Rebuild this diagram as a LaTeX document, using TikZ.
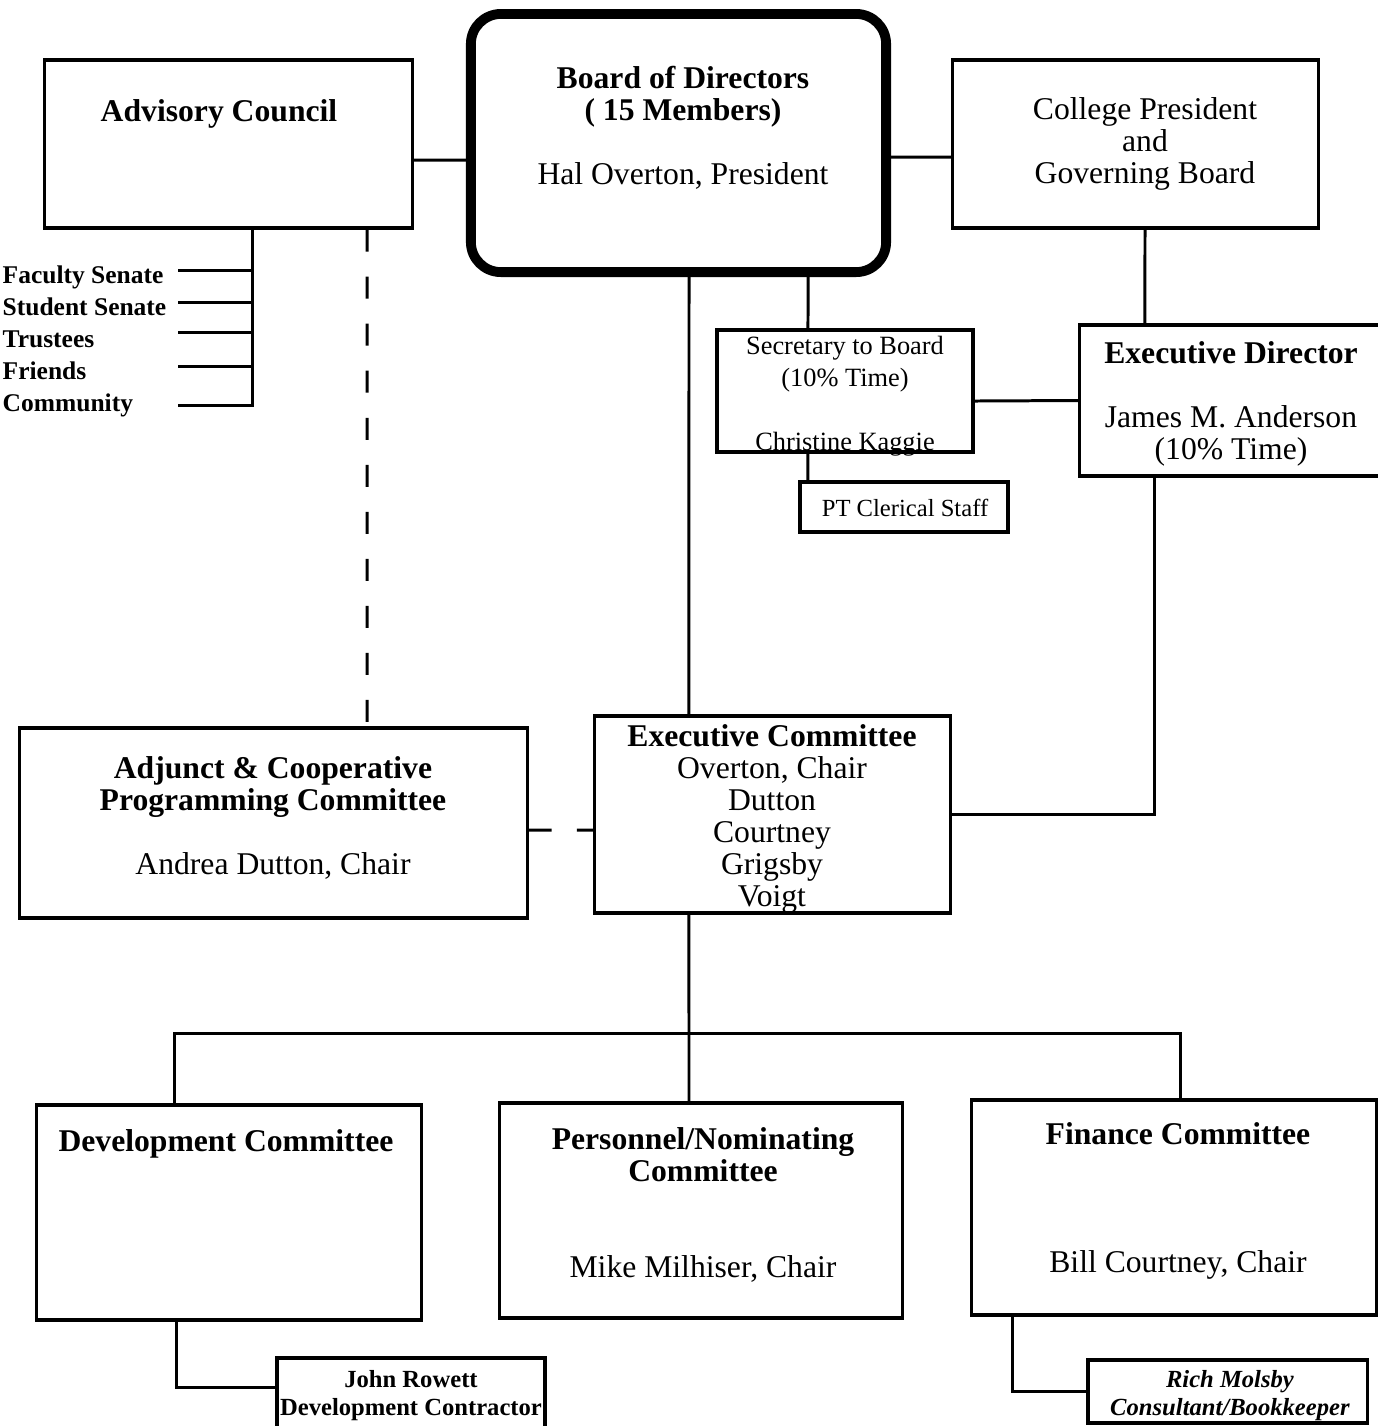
\documentclass[tikz,border=0pt]{standalone}
\usepackage{fontspec}
\setmainfont{Liberation Serif}

\begin{document}
\begin{tikzpicture}[x=0.01cm, y=-0.01cm,
  unit/.style={draw, line width=0.9pt, inner sep=0pt},
  boardunit/.style={draw, line width=2.8pt, rounded corners=3mm, inner sep=0pt},
  link/.style={line width=0.85pt},
  dashlink/.style={line width=0.85pt, dash pattern=on 2.2mm off 2.5mm},
  txt/.style={align=center, inner sep=0pt, yshift=-0.35mm, font=\fontsize{9}{9.1}\selectfont},
  smalltxt/.style={align=center, inner sep=0pt, yshift=-0.35mm, font=\fontsize{7.5}{9.1}\selectfont},
  tinytxt/.style={align=center, inner sep=0pt, yshift=-0.3mm, font=\fontsize{7}{8.2}\selectfont},
  listtxt/.style={align=left, inner sep=0pt, yshift=-0.35mm, font=\fontsize{7.25}{9.1}\selectfont}]
\useasboundingbox (0,0) rectangle (1378,1426);
\clip (0,0) rectangle (1378,1426);

% top row
\node[unit, minimum width=3.67cm, minimum height=1.68cm] (adv) at (228.5,144) {};
\node[txt] (advt) at (219,110) {\textbf{Advisory Council}};
\node[boardunit, minimum width=4.15cm, minimum height=2.58cm] (board) at (678.5,143) {};
\node[txt] (boardt) at (683,124) {\textbf{Board of Directors}\\\textbf{( 15 Members)}\\[9.1pt]Hal Overton, President};
\node[unit, minimum width=3.65cm, minimum height=1.68cm] (col) at (1135.5,144) {};
\node[txt] (colt) at (1145,140) {College President\\and\\Governing Board};
\draw[link] ([yshift=-1.6mm]adv.east) -- ([yshift=-1.7mm]board.west);
\draw[link] ([yshift=-1.4mm]board.east) -- ([yshift=-1.3mm]col.west);

% groups below the advisory council
\node[listtxt, anchor=west] (groups) at (2,338) {\textbf{Faculty Senate}\\\textbf{Student Senate}\\\textbf{Trustees}\\\textbf{Friends}\\\textbf{Community}};
\coordinate (g1) at (178,270);
\coordinate (g2) at (178,302);
\coordinate (g3) at (178,332);
\coordinate (g4) at (178,366);
\coordinate (g5) at (178,405);
\draw[link] (g1) -| ([xshift=2.35mm]adv.south);
\draw[link] (g2) -| ([xshift=2.35mm]adv.south);
\draw[link] (g3) -| ([xshift=2.35mm]adv.south);
\draw[link] (g4) -| ([xshift=2.35mm]adv.south);
\draw[link] (g5) -| ([xshift=2.35mm]adv.south);

% secretary and executive director
\node[unit, minimum width=2.56cm, minimum height=1.22cm] (sec) at (845,391) {};
\node[smalltxt] (sect) at (845,393) {Secretary to Board\\(10\% Time)\\[9.1pt]Christine Kaggie};
\node[unit, minimum width=2.08cm, minimum height=0.5cm] (pt) at (904,507) {};
\node[tinytxt] (ptt) at (905,505) {PT Clerical Staff};
\node[unit, minimum width=3.1cm, minimum height=1.51cm] (edir) at (1235,400.5) {};
\node[txt] (edirt) at (1231,400) {\textbf{Executive Director}\\[9.1pt]James M. Anderson\\(10\% Time)};
\draw[link] ([xshift=12.95mm]board.south) -- ([xshift=-3.7mm]sec.north);
\draw[link] ([xshift=-3.7mm]sec.south) -- ([xshift=-9.6mm]pt.north);
\draw[link] ([yshift=-1mm]sec.east) -- (edir.west);
\draw[link] ([xshift=0.95mm]col.south) -- ([xshift=-9mm]edir.north);

% committees in the middle
\node[unit, minimum width=5.07cm, minimum height=1.9cm] (adj) at (273.5,823) {};
\node[txt] (adjt) at (273,814) {\textbf{Adjunct \& Cooperative}\\\textbf{Programming Committee}\\[9.1pt]Andrea Dutton, Chair};
\node[unit, minimum width=3.55cm, minimum height=1.97cm] (exec) at (772.5,814.5) {};
\node[txt] (exect) at (772,815.5) {\textbf{Executive Committee}\\Overton, Chair\\Dutton\\Courtney\\Grigsby\\Voigt};
\draw[dashlink] ([xshift=13.85mm]adv.south) -- ([xshift=9.35mm]adj.north);
\draw[link, dash pattern=on 2.3mm off 2.5mm] ([yshift=-0.7mm]adj.east) -- ([yshift=-1.55mm]exec.west);
\draw[link] ([xshift=1.05mm]board.south) -- ([xshift=-8.35mm]exec.north);
\draw[link] ([xshift=-8mm]edir.south) |- (exec.east);

% standing committees
\node[unit, minimum width=3.84cm, minimum height=2.15cm] (dev) at (229,1212.5) {};
\node[txt] (devt) at (226,1140) {\textbf{Development Committee}};
\node[unit, minimum width=4.02cm, minimum height=2.15cm] (pers) at (701,1210.5) {};
\node[txt] (perst) at (703,1201) {\textbf{Personnel/Nominating}\\\textbf{Committee}\\[18.2pt]Mike Milhiser, Chair};
\node[unit, minimum width=4.04cm, minimum height=2.15cm] (fin) at (1174,1207.5) {};
\node[txt] (fint) at (1178,1197.5) {\textbf{Finance Committee}\\[27.3pt]Bill Courtney, Chair};
\coordinate (bus) at (689,1033);
\draw[link] ([xshift=-8.35mm]exec.south) -- (bus);
\draw[link] (bus) -| ([xshift=-5.4mm]dev.north);
\draw[link] (bus) -| ([xshift=0.6mm]fin.north);
\draw[link] (bus) -- ([xshift=-1.2mm]pers.north);

% contractors
\node[unit, minimum width=2.68cm, minimum height=0.82cm] (john) at (411,1399) {};
\node[tinytxt] (johnt) at (411,1392.5) {\textbf{John Rowett}\\\textbf{Development Contractor}};
\node[unit, minimum width=2.79cm, minimum height=0.63cm] (rich) at (1227.5,1391.5) {};
\node[tinytxt] (richt) at (1230,1392.5) {\textbf{\textit{Rich Molsby}}\\\textbf{\textit{Consultant/Bookkeeper}}};
\draw[link] ([xshift=-5.2mm]dev.south) |- ([yshift=1.2mm]john.west);
\draw[link] ([xshift=-16.1mm]fin.south) |- (rich.west);
\end{tikzpicture}
\end{document}
